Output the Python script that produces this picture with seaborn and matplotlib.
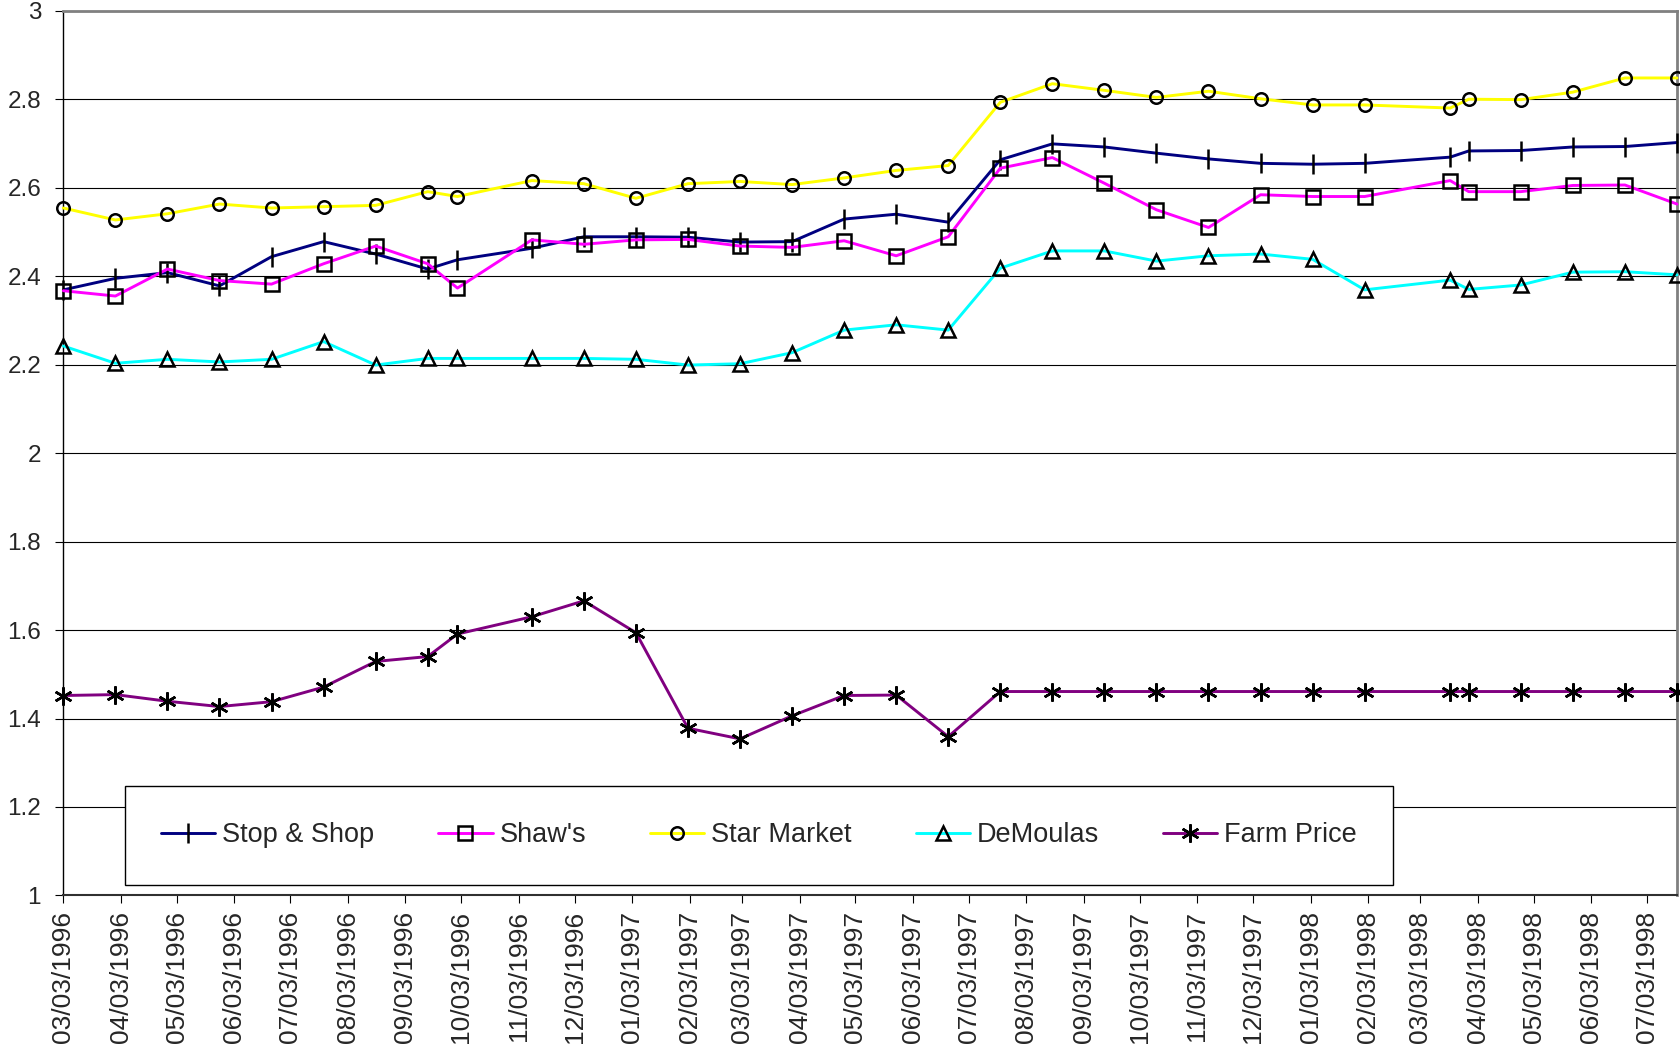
import seaborn as sns
import matplotlib.pyplot as plt
import matplotlib.dates as mdates
from matplotlib.ticker import FuncFormatter
import pandas as pd
import numpy as np

dates = [
    "1996-03-03", "1996-03-31", "1996-04-28", "1996-05-26", "1996-06-23",
    "1996-07-21", "1996-08-18", "1996-09-15", "1996-10-01", "1996-11-10",
    "1996-12-08", "1997-01-05", "1997-02-02", "1997-03-02", "1997-03-30",
    "1997-04-27", "1997-05-25", "1997-06-22", "1997-07-20", "1997-08-17",
    "1997-09-14", "1997-10-12", "1997-11-09", "1997-12-07", "1998-01-04",
    "1998-02-01", "1998-03-19", "1998-03-29", "1998-04-26", "1998-05-24",
    "1998-06-21", "1998-07-19",
]

stop_shop = [2.369, 2.395, 2.408, 2.378, 2.444, 2.478, 2.450, 2.416, 2.437, 2.463,
             2.489, 2.489, 2.488, 2.477, 2.478, 2.529, 2.540, 2.522, 2.663, 2.699,
             2.692, 2.678, 2.665, 2.655, 2.653, 2.655, 2.669, 2.683, 2.684, 2.692,
             2.693, 2.702]
shaws = [2.367, 2.355, 2.416, 2.390, 2.382, 2.428, 2.468, 2.428, 2.373, 2.482,
         2.472, 2.482, 2.483, 2.468, 2.465, 2.480, 2.446, 2.489, 2.644, 2.668,
         2.610, 2.550, 2.510, 2.584, 2.580, 2.580, 2.616, 2.591, 2.591, 2.605,
         2.606, 2.563]
star_market = [2.554, 2.527, 2.541, 2.563, 2.554, 2.557, 2.560, 2.591, 2.580, 2.616,
               2.609, 2.576, 2.609, 2.614, 2.607, 2.622, 2.639, 2.650, 2.793, 2.835,
               2.820, 2.804, 2.818, 2.801, 2.787, 2.787, 2.780, 2.800, 2.799, 2.816,
               2.848, 2.848]
demoulas = [2.242, 2.203, 2.212, 2.206, 2.212, 2.252, 2.199, 2.214, 2.214, 2.214,
            2.214, 2.212, 2.199, 2.202, 2.227, 2.278, 2.290, 2.278, 2.418, 2.457,
            2.457, 2.434, 2.446, 2.450, 2.438, 2.369, 2.391, 2.370, 2.380, 2.409,
            2.410, 2.403]
farm_price = [1.452, 1.454, 1.439, 1.427, 1.438, 1.471, 1.529, 1.540, 1.591, 1.630,
              1.666, 1.594, 1.378, 1.354, 1.406, 1.452, 1.453, 1.359, 1.461, 1.461,
              1.461, 1.461, 1.461, 1.461, 1.461, 1.461, 1.461, 1.461, 1.461, 1.461,
              1.461, 1.461]

series_names = ["Stop & Shop", "Shaw's", "Star Market", "DeMoulas", "Farm Price"]
series_values = [stop_shop, shaws, star_market, demoulas, farm_price]
series_colors = ["#000080", "#FF00FF", "#FFFF00", "#00FFFF", "#800080"]
series_markers = ["|", "s", "o", "^", (6, 2, 0)]
series_msize = [14, 9.5, 9, 10.5, 13]

df = pd.DataFrame({"date": pd.to_datetime(dates)})
for name, vals in zip(series_names, series_values):
    df[name] = vals

sns.set_theme(style="white")
plt.rcParams["font.family"] = ["Liberation Sans", "DejaVu Sans"]

fig = plt.figure(figsize=(16.8, 10.51), dpi=100)
ax = fig.add_axes([0.0377, 0.148, 0.9605, 0.8418])

for name, col, mk, ms in zip(series_names, series_colors, series_markers, series_msize):
    sns.lineplot(data=df, x="date", y=name, ax=ax, color=col, linewidth=2.1,
                 marker=mk, markersize=ms, markerfacecolor="none",
                 markeredgecolor="black", markeredgewidth=1.8,
                 label=name, clip_on=False, zorder=3)

ax.set_xlim(df["date"].iloc[0], df["date"].iloc[-1])
ax.set_ylim(1, 3)
ax.set_yticks(np.arange(1, 3.001, 0.2))
ax.yaxis.set_major_formatter(FuncFormatter(lambda v, p: f"{round(v, 1):g}"))
ax.xaxis.set_major_locator(mdates.MonthLocator(bymonthday=3))
ax.xaxis.set_major_formatter(mdates.DateFormatter("%m/%d/%Y"))
ax.set_xlabel("")
ax.set_ylabel("")

ax.yaxis.grid(True, color="black", linewidth=0.8)
ax.xaxis.grid(False)
ax.set_axisbelow(True)

ax.tick_params(axis="y", labelsize=17.5, length=6, width=0.8, color="black",
               direction="out", left=True, pad=10)
ax.tick_params(axis="x", labelsize=19, length=6, width=0.8, color="black",
               direction="out", bottom=True, pad=5, labelrotation=90)
for lab in ax.get_xticklabels():
    lab.set_verticalalignment("top")

ax.spines["left"].set_color("black")
ax.spines["left"].set_linewidth(1.0)
ax.spines["bottom"].set_color("#303030")
ax.spines["bottom"].set_linewidth(1.5)
for s in ["top", "right"]:
    ax.spines[s].set_color("#808080")
    ax.spines[s].set_linewidth(2.0)

handles, labels = ax.get_legend_handles_labels()
leg = ax.legend(handles, labels, loc="center", bbox_to_anchor=(0.4311, 0.0678),
                ncol=5, fontsize=19.5, frameon=True, fancybox=False, shadow=False,
                framealpha=1, edgecolor="black", borderpad=1.35, handlelength=2.0,
                handletextpad=0.25, columnspacing=2.37)
leg.get_frame().set_linewidth(1.0)
leg.set_zorder(5)

fig.savefig("out.png", dpi=100, facecolor="white")
